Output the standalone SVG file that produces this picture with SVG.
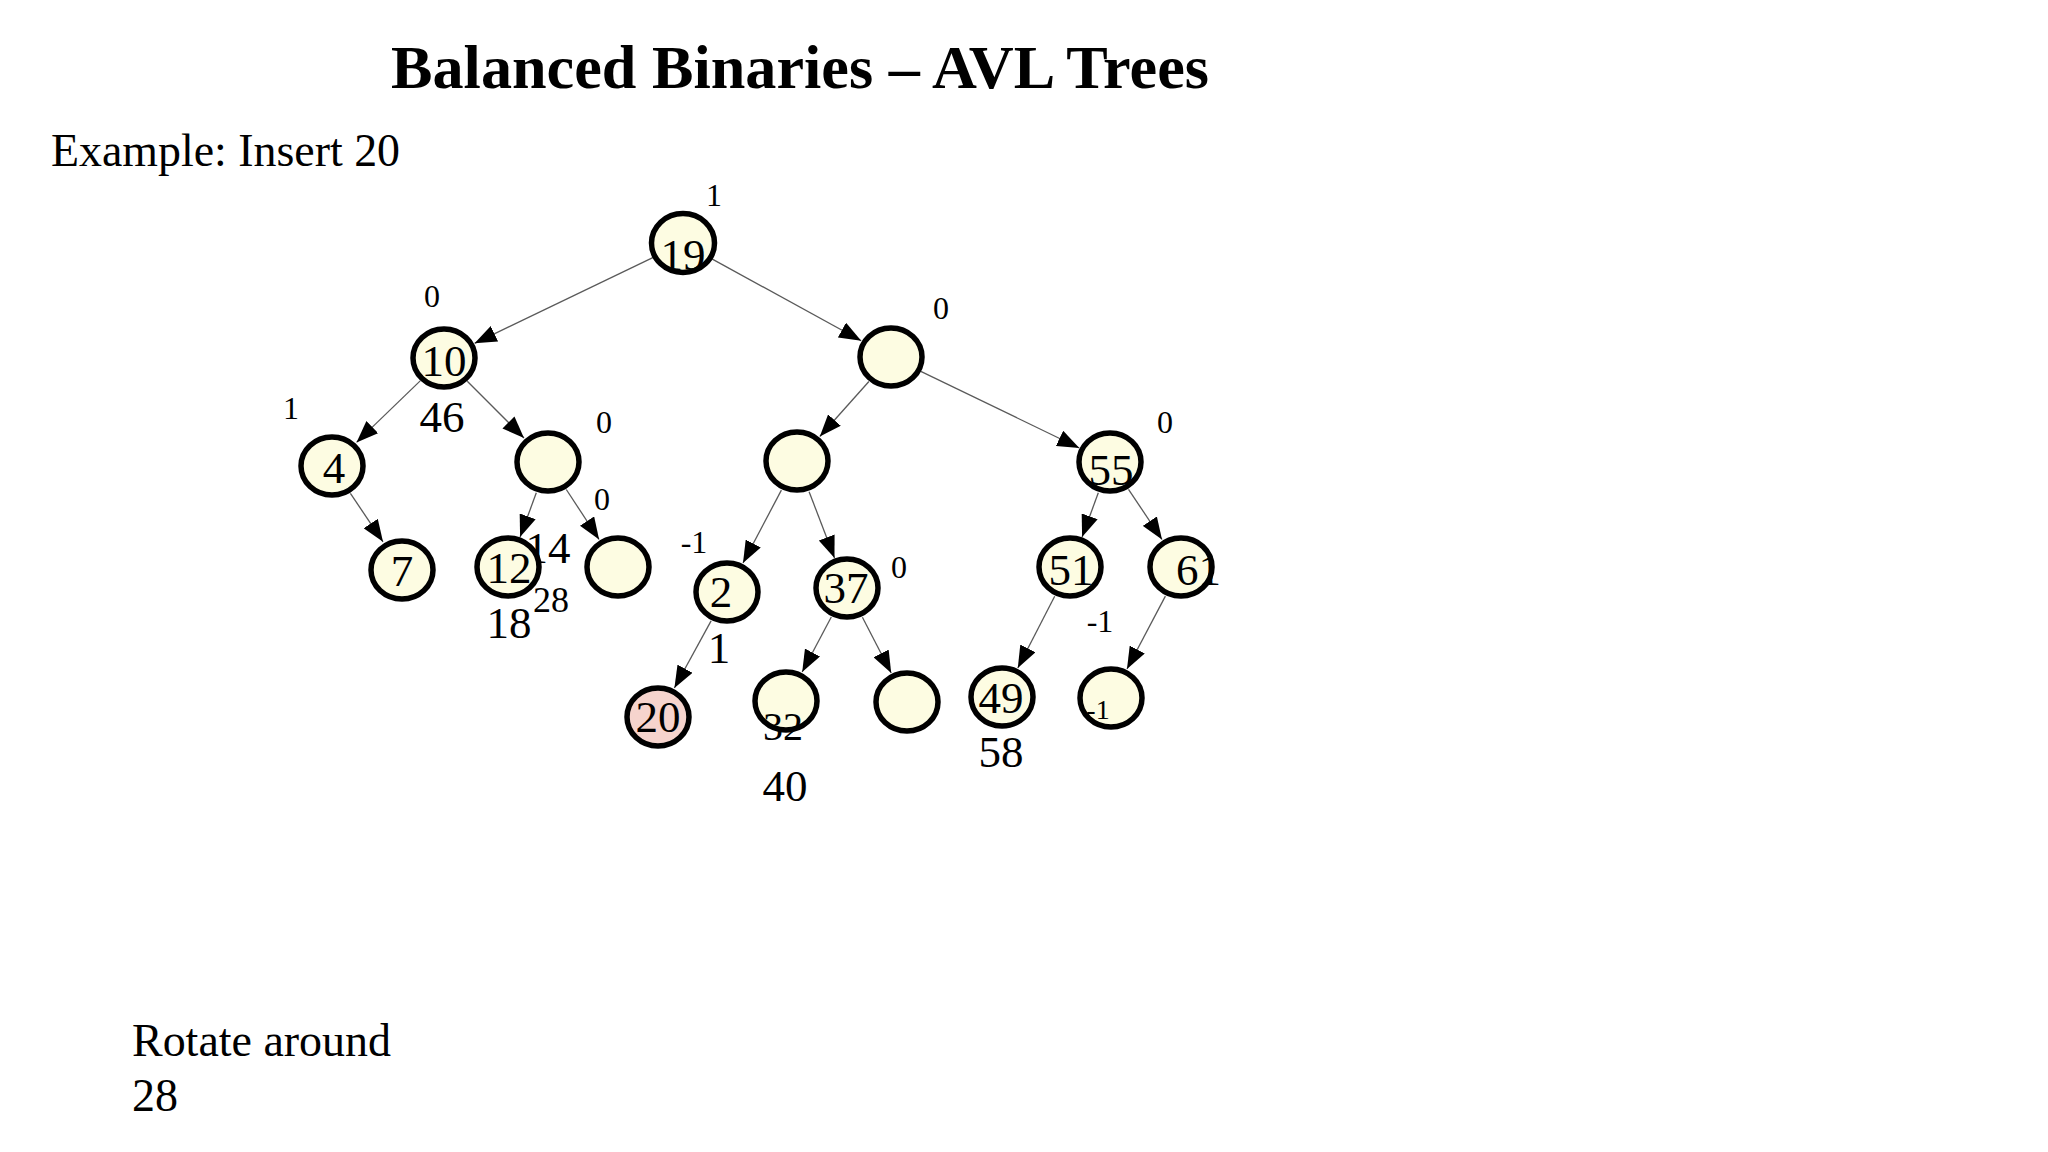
<svg xmlns="http://www.w3.org/2000/svg" width="2048" height="1152" viewBox="0 0 2048 1152">
<style>
text{font-family:"Liberation Serif","Times New Roman",serif;fill:#000}
.title{font-size:62px;font-weight:bold}
.body{font-size:46px}
.nl{font-size:45px;text-anchor:middle}
.bf{font-size:32px;text-anchor:middle}
.big{font-size:45px;text-anchor:middle}
.node ellipse{fill:#fdfce2;stroke:#000;stroke-width:5.5}
.node.hot ellipse{fill:#f6d4cd}
.edges line{stroke:#5a5a5a;stroke-width:1.3;marker-end:url(#arr)}
</style>
<defs>
<marker id="arr" markerUnits="userSpaceOnUse" markerWidth="22" markerHeight="17" refX="22" refY="8.5" orient="auto">
<path d="M0,0 L22,8.5 L0,17 z" fill="#000"/>
</marker>
</defs>
<rect width="2048" height="1152" fill="#fff"/>
<text class="title" x="391" y="88" textLength="818" lengthAdjust="spacingAndGlyphs">Balanced Binaries – AVL Trees</text>
<text class="body" x="51" y="166" textLength="349" lengthAdjust="spacingAndGlyphs">Example: Insert 20</text>
<text class="body" x="132" y="1056" textLength="259" lengthAdjust="spacingAndGlyphs">Rotate around</text>
<text class="body" x="132" y="1111">28</text>

<g id="edges" class="edges">
<line x1="653.3" y1="257.3" x2="474.6" y2="343.3"/>
<line x1="711.9" y1="258.9" x2="861.2" y2="340.7"/>
<line x1="420.2" y1="380.9" x2="356.5" y2="442.4"/>
<line x1="467.3" y1="381.3" x2="524" y2="438"/>
<line x1="350.4" y1="493.4" x2="383" y2="541.8"/>
<line x1="536.3" y1="492.8" x2="520.1" y2="537"/>
<line x1="566.3" y1="489.5" x2="599.1" y2="539.5"/>
<line x1="868.9" y1="381.5" x2="819.8" y2="436.5"/>
<line x1="920.8" y1="371.3" x2="1079.3" y2="448"/>
<line x1="781.4" y1="490.1" x2="743" y2="563"/>
<line x1="809.1" y1="491.7" x2="834.5" y2="558"/>
<line x1="1098.3" y1="492.8" x2="1082.1" y2="537"/>
<line x1="1128.5" y1="489.3" x2="1162" y2="539.5"/>
<line x1="711.1" y1="620.9" x2="674.4" y2="688"/>
<line x1="831.3" y1="617" x2="802.2" y2="672"/>
<line x1="862.4" y1="617.2" x2="891.2" y2="673"/>
<line x1="1054.7" y1="596.2" x2="1017.8" y2="668"/>
<line x1="1165.4" y1="596.1" x2="1127" y2="669"/>
</g>

<g id="labels-under">
<text class="big" x="548" y="563">14</text>
<text class="bf" x="551" y="612" style="font-size:36px">28</text>
</g>

<g id="n19" class="node"><ellipse cx="683" cy="243" rx="31.5" ry="29.5"/><text class="nl" x="683" y="270">19</text></g>
<g id="n10" class="node"><ellipse cx="444" cy="358" rx="31" ry="29"/><text class="nl" x="444" y="376">10</text></g>
<g id="nR" class="node"><ellipse cx="891" cy="357" rx="31" ry="29"/></g>
<g id="n4" class="node"><ellipse cx="332" cy="466" rx="31" ry="29"/><text class="nl" x="334" y="483">4</text></g>
<g id="nE1" class="node"><ellipse cx="548" cy="462" rx="31" ry="29"/></g>
<g id="nE3" class="node"><ellipse cx="797" cy="461" rx="31" ry="29"/></g>
<g id="n55" class="node"><ellipse cx="1110" cy="462" rx="31" ry="29"/><text class="nl" x="1111" y="485">55</text></g>
<g id="n7" class="node"><ellipse cx="402" cy="570" rx="31" ry="29"/><text class="nl" x="402" y="586">7</text></g>
<g id="n12" class="node"><ellipse cx="508" cy="567" rx="31" ry="29"/><text class="nl" x="509" y="583">12</text></g>
<g id="nE2" class="node"><ellipse cx="618" cy="567" rx="31" ry="29"/></g>
<g id="n2" class="node"><ellipse cx="727" cy="592" rx="31" ry="29"/><text class="nl" x="721" y="607">2</text></g>
<g id="n37" class="node"><ellipse cx="847" cy="588" rx="31" ry="29"/><text class="nl" x="846" y="603">37</text></g>
<g id="n51" class="node"><ellipse cx="1070" cy="567" rx="31" ry="29"/><text class="nl" x="1071" y="585">51</text></g>
<g id="n61" class="node"><ellipse cx="1181" cy="567" rx="31" ry="29"/><text class="nl" x="1176" y="585" style="text-anchor:start">61</text></g>
<g id="n20" class="node hot"><ellipse cx="658" cy="717" rx="31" ry="29"/><text class="nl" x="658" y="732">20</text></g>
<g id="n32" class="node"><ellipse cx="786" cy="701" rx="31" ry="29"/></g>
<g id="nE4" class="node"><ellipse cx="907" cy="702" rx="31" ry="29"/></g>
<g id="n49" class="node"><ellipse cx="1002" cy="697" rx="31" ry="29"/><text class="nl" x="1001" y="713">49</text></g>
<g id="nM1" class="node"><ellipse cx="1111" cy="698" rx="31" ry="29"/><text class="bf" x="1098" y="719" style="font-size:28px">-1</text></g>

<g id="labels">
<text class="bf" x="714" y="206">1</text>
<text class="bf" x="432" y="307">0</text>
<text class="bf" x="941" y="319">0</text>
<text class="bf" x="291" y="419">1</text>
<text class="big" x="442" y="432">46</text>
<text class="bf" x="604" y="433">0</text>
<text class="bf" x="602" y="510">0</text>
<text class="bf" x="1165" y="433">0</text>
<text class="big" x="509" y="638">18</text>
<text class="bf" x="694" y="553">-1</text>
<text class="bf" x="899" y="578">0</text>
<text class="big" x="719" y="663">1</text>
<text class="big" x="783" y="740" style="font-size:40px">32</text>
<text class="big" x="785" y="801">40</text>
<text class="bf" x="1100" y="632">-1</text>
<text class="big" x="1001" y="767">58</text>
</g>
</svg>
